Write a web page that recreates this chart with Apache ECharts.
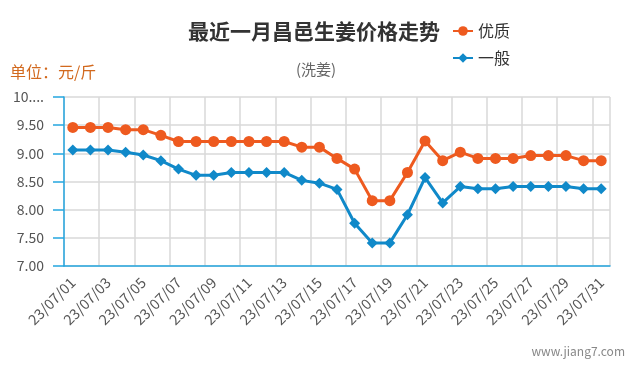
<!DOCTYPE html>
<html>
<head>
<meta charset="utf-8">
<script src="https://cdn.jsdelivr.net/npm/echarts@6/dist/echarts.min.js"></script>
<style>
  html, body { margin: 0; padding: 0; background: #fff; }
  #main { width: 635px; height: 375px; }
</style>
</head>
<body>
<div id="main"></div>
<script>
// days of July 2023
const dates = [
  '23/07/01', '23/07/02', '23/07/03', '23/07/04', '23/07/05', '23/07/06', '23/07/07', '23/07/08',
  '23/07/09', '23/07/10', '23/07/11', '23/07/12', '23/07/13', '23/07/14', '23/07/15', '23/07/16',
  '23/07/17', '23/07/18', '23/07/19', '23/07/20', '23/07/21', '23/07/22', '23/07/23', '23/07/24',
  '23/07/25', '23/07/26', '23/07/27', '23/07/28', '23/07/29', '23/07/30', '23/07/31'
];

// 优质
const premium = [
  9.46, 9.46, 9.46, 9.42, 9.42, 9.32, 9.21, 9.21, 9.21, 9.21, 9.21, 9.21, 9.21, 9.11, 9.11, 8.91,
  8.72, 8.16, 8.16, 8.66, 9.22, 8.87, 9.02, 8.91, 8.91, 8.91, 8.96, 8.96, 8.96, 8.87, 8.87
];

// 一般
const normal = [
  9.06, 9.06, 9.06, 9.02, 8.97, 8.87, 8.72, 8.61, 8.61, 8.66, 8.66, 8.66, 8.66, 8.52, 8.47, 8.36,
  7.76, 7.41, 7.41, 7.91, 8.57, 8.12, 8.41, 8.37, 8.37, 8.41, 8.41, 8.41, 8.41, 8.37, 8.37
];

const seriesNames = ['优质', '一般'];

const chartDom = document.getElementById('main');
const myChart = echarts.init(chartDom);

const axisBlue = '#25a6e0';
const font = '"Noto Sans CJK SC", "Noto Sans", sans-serif';

const option = {
  animation: false,
  textStyle: { fontFamily: font },
  title: [
    {
      text: '最近一月昌邑生姜价格走势',
      left: 309,
      top: 16,
      textAlign: 'center',
      textStyle: { fontSize: 21, fontWeight: 'bold', color: '#333', fontFamily: font }
    },
    {
      text: '(洗姜)',
      left: 311,
      top: 57,
      textAlign: 'center',
      textStyle: { fontSize: 15, fontWeight: 'normal', color: '#666', fontFamily: font }
    },
    {
      text: '单位：元/斤',
      left: 5,
      top: 59,
      textStyle: { fontSize: 16, fontWeight: 'normal', color: '#d2691e', fontFamily: font }
    },
    {
      text: 'www.jiang7.com',
      right: 5,
      top: 340,
      textStyle: { fontSize: 12, fontWeight: 'normal', color: '#888', fontFamily: font }
    }
  ],
  legend: {
    orient: 'vertical',
    left: 447,
    top: 18,
    itemWidth: 20,
    itemHeight: 12,
    itemGap: 11,
    textStyle: { fontSize: 16, color: '#333' },
    data: seriesNames
  },
  grid: {
    left: 64,
    right: 25,
    top: 97,
    bottom: 109,
    containLabel: false
  },
  xAxis: {
    type: 'category',
    data: dates,
    boundaryGap: true,
    axisLine: { lineStyle: { color: axisBlue, width: 1.5 } },
    axisTick: { alignWithLabel: true, interval: 1, length: 11, lineStyle: { color: axisBlue, width: 1.5 } },
    axisLabel: { interval: 1, rotate: 45, margin: 14, fontSize: 14.5, color: '#555' },
    splitLine: { show: true, interval: 1, lineStyle: { color: '#d9d9d9', width: 1.5 } }
  },
  yAxis: {
    type: 'value',
    min: 7,
    max: 10,
    interval: 0.5,
    axisLine: { show: true, lineStyle: { color: axisBlue, width: 1.5 } },
    axisTick: { show: true, length: 11, lineStyle: { color: axisBlue, width: 1.5 } },
    axisLabel: {
      margin: 20,
      fontSize: 14,
      color: '#555',
      width: 34,
      overflow: 'truncate',
      ellipsis: '...',
      formatter: (v) => v.toFixed(2)
    },
    splitLine: { lineStyle: { color: '#d9d9d9', width: 1.5 } }
  },
  series: [
    {
      name: seriesNames[0],
      type: 'line',
      data: premium,
      symbol: 'circle',
      symbolSize: 11,
      itemStyle: { color: '#ee5a1f' },
      lineStyle: { color: '#ee5a1f', width: 3 }
    },
    {
      name: seriesNames[1],
      type: 'line',
      data: normal,
      symbol: 'diamond',
      symbolSize: 11,
      itemStyle: { color: '#1089c9' },
      lineStyle: { color: '#1089c9', width: 3 }
    }
  ]
};

option && myChart.setOption(option);
</script>
</body>
</html>
